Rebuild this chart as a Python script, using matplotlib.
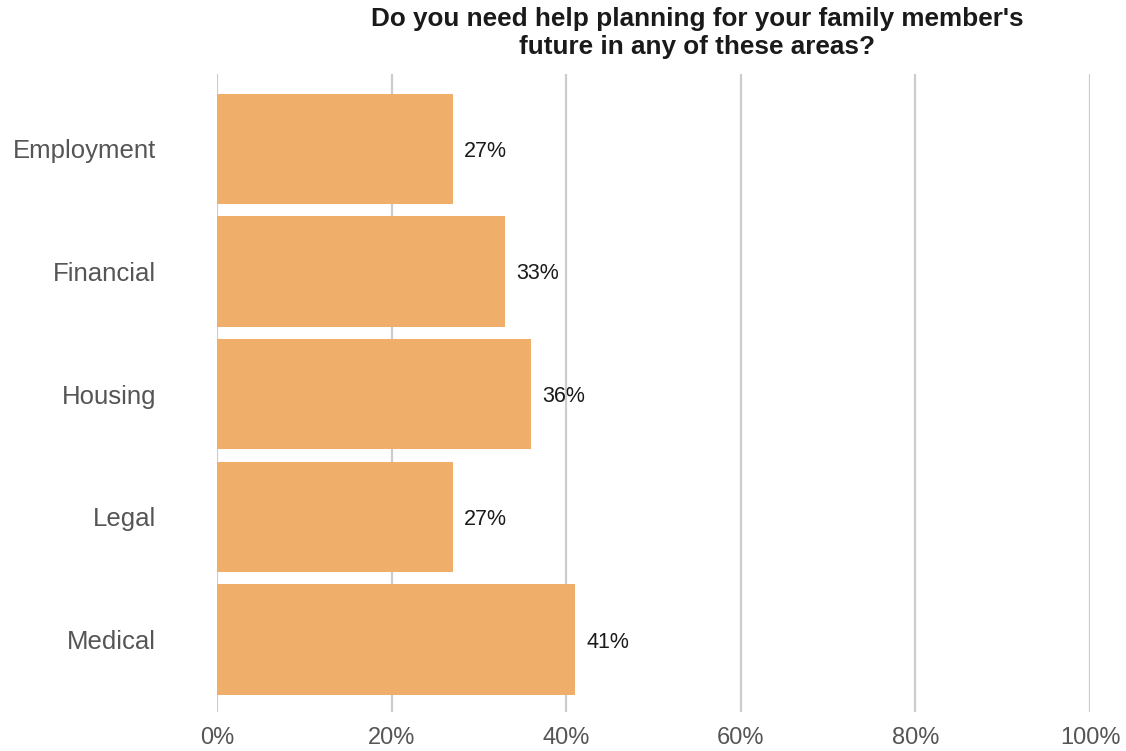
import matplotlib
matplotlib.use("Agg")
import matplotlib.pyplot as plt
from matplotlib.ticker import FuncFormatter

plt.rcParams['font.family'] = ['Liberation Sans', 'DejaVu Sans']

categories = ["Employment", "Financial", "Housing", "Legal", "Medical"]
values = [27, 33, 36, 27, 41]
x_ticks = [0, 20, 40, 60, 80, 100]

W, H = 1126, 751
fig = plt.figure(figsize=(W / 100, H / 100), dpi=100)
ax = fig.add_axes([217 / W, 1 - 712 / H, (1090 - 217) / W, (712 - 74) / H])

ypos = list(range(len(categories)))
ax.barh(ypos, values, height=0.9, color="#EFAE69", zorder=2)

for y, v in zip(ypos, values):
    ax.text(v + 1.3, y + 0.02, f"{v}%", va="center", ha="left", fontsize=15.5, color="#1a1a1a")

ax.set_xlim(0, 100)
ax.set_ylim(len(categories) - 0.41, -0.61)
ax.set_xticks(x_ticks)
ax.xaxis.set_major_formatter(FuncFormatter(lambda v, p: f"{v:.0f}%"))
ax.set_yticks(ypos)
ax.set_yticklabels(categories)
ax.grid(axis="x", color="#CCCCCC", linewidth=1.6, zorder=0)
for s in ax.spines.values():
    s.set_visible(False)
ax.tick_params(axis="both", length=0, labelcolor="#555555")
ax.tick_params(axis="y", pad=44, labelsize=18.5)
ax.tick_params(axis="x", pad=11, labelsize=17)

fig.text(697 / W, 1 - 7 / H, "Do you need help planning for your family member's\nfuture in any of these areas?",
         ha="center", va="top", fontsize=18.8, fontweight="bold", color="#1a1a1a", linespacing=1.22)

fig.savefig("out.png", dpi=100)
